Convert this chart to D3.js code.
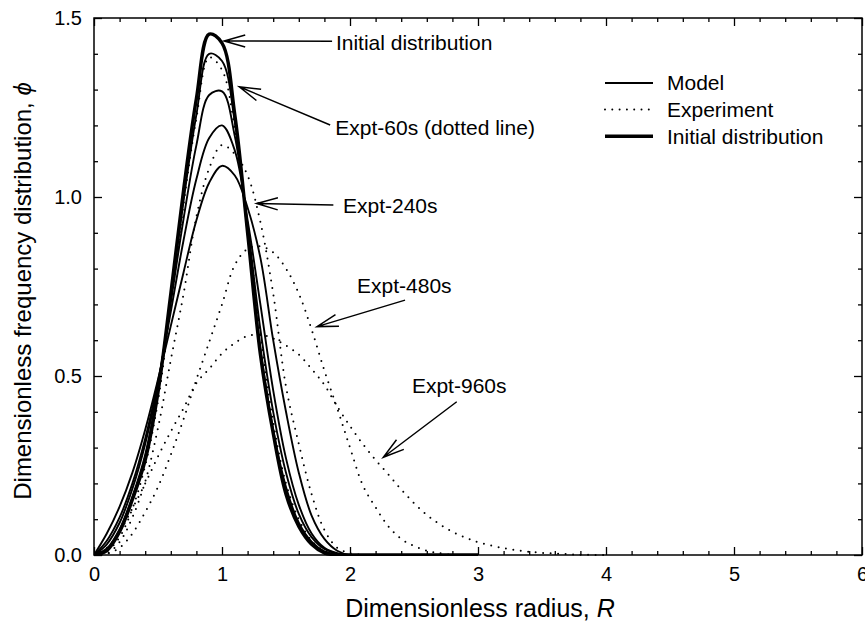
<!DOCTYPE html>
<html>
<head>
<meta charset="utf-8">
<script src="https://cdn.jsdelivr.net/npm/d3@7"></script>
<style>
  body { margin: 0; background: #fff; }
  svg { display: block; }
  text { font-family: "Liberation Sans", Arial, sans-serif; fill: #000; }
</style>
</head>
<body>
<div id="chart"></div>
<script>
const width = 865,
  height = 635,
  margin = { top: 18, right: 3, bottom: 80, left: 94 };

const innerW = width - margin.left - margin.right,
  innerH = height - margin.top - margin.bottom;

// ---- data ----
const xTicks = [0, 1, 2, 3, 4, 5, 6];
const yTicks = [0, 0.5, 1.0, 1.5];

// model curves share one radius grid
const rModel = [0, 0.1, 0.2, 0.3, 0.4, 0.5, 0.6, 0.7, 0.8, 0.9, 1.0, 1.1, 1.2, 1.3, 1.4, 1.5, 1.6, 1.7, 1.8, 1.9, 2.0, 2.5, 3.0];
const initialPhi = [0, 0.012, 0.065, 0.155, 0.265, 0.455, 0.73, 1.02, 1.275, 1.455, 1.43, 1.23, 0.90, 0.56, 0.34, 0.17, 0.08, 0.03, 0.006, 0, 0, 0, 0];
const model60 = [0, 0.018, 0.072, 0.163, 0.28, 0.465, 0.72, 0.99, 1.23, 1.40, 1.38, 1.21, 0.90, 0.58, 0.35, 0.19, 0.09, 0.037, 0.01, 0.002, 0, 0, 0];
const model240 = [0, 0.03, 0.09, 0.185, 0.31, 0.475, 0.705, 0.94, 1.145, 1.285, 1.295, 1.17, 0.92, 0.63, 0.40, 0.23, 0.115, 0.05, 0.017, 0.004, 0, 0, 0];
const model480 = [0, 0.04, 0.105, 0.20, 0.325, 0.485, 0.68, 0.88, 1.05, 1.165, 1.20, 1.13, 0.935, 0.70, 0.46, 0.27, 0.14, 0.06, 0.02, 0.005, 0, 0, 0];
const model960 = [0, 0.06, 0.135, 0.23, 0.35, 0.49, 0.64, 0.79, 0.935, 1.04, 1.087, 1.06, 0.97, 0.83, 0.60, 0.40, 0.23, 0.11, 0.045, 0.012, 0, 0, 0];

// experiment curves (dotted), each uses the start of this grid
const rExpt = [0, 0.1, 0.2, 0.3, 0.4, 0.5, 0.6, 0.7, 0.8, 0.9, 1.0, 1.1, 1.2, 1.3, 1.4, 1.5, 1.6, 1.7, 1.8, 1.9, 2.0,
  2.1, 2.2, 2.3, 2.4, 2.5, 2.6, 2.7, 2.8, 2.9, 3.0, 3.2, 3.4, 3.6, 3.8, 4.0];
const expt60 = [0, 0.01, 0.05, 0.13, 0.25, 0.43, 0.70, 0.98, 1.22, 1.39, 1.355, 1.19, 0.92, 0.62, 0.37, 0.20, 0.10, 0.04, 0.012, 0.002, 0];
const expt240 = [0, 0.004, 0.036, 0.105, 0.205, 0.355, 0.545, 0.73, 0.945, 1.08, 1.145, 1.12, 1.06, 0.93, 0.73, 0.47, 0.31, 0.17, 0.07, 0.02, 0.005, 0];
const expt480 = [0, 0.003, 0.02, 0.06, 0.12, 0.19, 0.28, 0.38, 0.49, 0.595, 0.70, 0.81, 0.855, 0.862, 0.845, 0.80, 0.73, 0.63, 0.515, 0.41, 0.30,
  0.195, 0.133, 0.08, 0.045, 0.025, 0.012, 0.005, 0];
const expt960 = [0, 0.02, 0.065, 0.13, 0.20, 0.275, 0.345, 0.41, 0.48, 0.52, 0.563, 0.592, 0.612, 0.615, 0.605, 0.585, 0.56, 0.52, 0.475, 0.415, 0.36,
  0.31, 0.265, 0.225, 0.183, 0.145, 0.112, 0.086, 0.065, 0.049, 0.036, 0.019, 0.009, 0.004, 0.001, 0];

const legendLabels = ["Model", "Experiment", "Initial distribution"];

// callouts: text anchor, arrow start and arrow tip, in data units (R, phi)
const callouts = [
  { label: "Initial distribution", text: [1.89, 1.41], from: [1.86, 1.435], to: [1.016, 1.436] },
  { label: "Expt-60s (dotted line)", text: [1.885, 1.173], from: [1.845, 1.201], to: [1.135, 1.308] },
  { label: "Expt-240s", text: [1.945, 0.955], from: [1.87, 0.978], to: [1.271, 0.982] },
  { label: "Expt-480s", text: [2.055, 0.732], from: [2.43, 0.712], to: [1.742, 0.638] },
  { label: "Expt-960s", text: [2.484, 0.452], from: [2.834, 0.428], to: [2.26, 0.273] }
];

// ---- chart ----
const svg = d3.select("#chart")
  .append("svg")
  .attr("width", width)
  .attr("height", height);

const g = svg.append("g")
  .attr("transform", `translate(${margin.left},${margin.top})`);

const x = d3.scaleLinear().domain([0, 6]).range([0, innerW]);
const y = d3.scaleLinear().domain([0, 1.5]).range([innerH, 0]);

svg.append("defs").append("clipPath").attr("id", "plot")
  .append("rect")
  .attr("x", 0).attr("y", -10)
  .attr("width", innerW).attr("height", innerH + 11);

const xMinor = d3.range(0, 6.001, 0.2).filter(v => Math.abs(v - Math.round(v)) > 1e-6);
const yMinor = d3.range(0, 1.501, 0.1).filter(v => Math.abs(v * 2 - Math.round(v * 2)) > 1e-6);

function styleAxis(sel) {
  sel.select(".domain").remove();
  sel.selectAll(".tick line").attr("stroke", "#000").attr("stroke-width", 1.3);
  sel.selectAll(".tick text")
    .attr("font-size", 20)
    .attr("font-family", '"Liberation Sans", Arial, sans-serif')
    .attr("fill", "#000");
}

// bottom
g.append("g").attr("transform", `translate(0,${innerH})`)
  .call(d3.axisBottom(x).tickValues(xTicks).tickSize(-8).tickPadding(12).tickFormat(d3.format("d")))
  .call(styleAxis);
g.append("g").attr("transform", `translate(0,${innerH})`)
  .call(d3.axisBottom(x).tickValues(xMinor).tickSize(-4).tickFormat(""))
  .call(styleAxis);
// top
g.append("g")
  .call(d3.axisTop(x).tickValues(xTicks).tickSize(-8).tickFormat(""))
  .call(styleAxis);
g.append("g")
  .call(d3.axisTop(x).tickValues(xMinor).tickSize(-4).tickFormat(""))
  .call(styleAxis);
// left
g.append("g")
  .call(d3.axisLeft(y).tickValues(yTicks).tickSize(-8).tickPadding(12).tickFormat(d3.format(".1f")))
  .call(styleAxis);
g.append("g")
  .call(d3.axisLeft(y).tickValues(yMinor).tickSize(-4).tickFormat(""))
  .call(styleAxis);
// right
g.append("g").attr("transform", `translate(${innerW},0)`)
  .call(d3.axisRight(y).tickValues(yTicks).tickSize(-8).tickFormat(""))
  .call(styleAxis);
g.append("g").attr("transform", `translate(${innerW},0)`)
  .call(d3.axisRight(y).tickValues(yMinor).tickSize(-4).tickFormat(""))
  .call(styleAxis);

// curves
const line = d3.line()
  .x(d => x(d[0]))
  .y(d => y(d[1]))
  .curve(d3.curveCatmullRom.alpha(0.5));

const pairs = (rs, vs) => vs.map((v, i) => [rs[i], v]);

const curves = g.append("g").attr("clip-path", "url(#plot)");

[model60, model240, model480, model960].forEach(vals => {
  curves.append("path")
    .datum(pairs(rModel, vals))
    .attr("d", line)
    .attr("fill", "none")
    .attr("stroke", "#000")
    .attr("stroke-width", 1.9);
});

[expt60, expt240, expt480, expt960].forEach(vals => {
  curves.append("path")
    .datum(pairs(rExpt, vals))
    .attr("d", line)
    .attr("fill", "none")
    .attr("stroke", "#000")
    .attr("stroke-width", 2)
    .attr("stroke-linecap", "round")
    .attr("stroke-dasharray", "0 7.5");
});

curves.append("path")
  .datum(pairs(rModel, initialPhi))
  .attr("d", line)
  .attr("fill", "none")
  .attr("stroke", "#000")
  .attr("stroke-width", 3.4);

// frame
g.append("rect")
  .attr("width", innerW)
  .attr("height", innerH)
  .attr("fill", "none")
  .attr("stroke", "#000")
  .attr("stroke-width", 1.5);

// callouts with open arrowheads
const head = 22, spread = 16 * Math.PI / 180;
callouts.forEach(c => {
  const x1 = x(c.from[0]), y1 = y(c.from[1]);
  const x2 = x(c.to[0]), y2 = y(c.to[1]);
  const a = Math.atan2(y1 - y2, x1 - x2);
  const path = d3.path();
  path.moveTo(x1, y1);
  path.lineTo(x2, y2);
  path.moveTo(x2 + head * Math.cos(a - spread), y2 + head * Math.sin(a - spread));
  path.lineTo(x2, y2);
  path.lineTo(x2 + head * Math.cos(a + spread), y2 + head * Math.sin(a + spread));
  g.append("path")
    .attr("d", path.toString())
    .attr("fill", "none")
    .attr("stroke", "#000")
    .attr("stroke-width", 1.5);
  g.append("text")
    .attr("x", x(c.text[0]))
    .attr("y", y(c.text[1]))
    .attr("font-size", 21)
    .text(c.label);
});

// legend
const legend = svg.append("g").attr("transform", "translate(605,83)");
legendLabels.forEach((label, i) => {
  const row = legend.append("g").attr("transform", `translate(0,${i * 26.6})`);
  const ln = row.append("line")
    .attr("x1", 0).attr("x2", 48)
    .attr("stroke", "#000");
  if (i === 0) ln.attr("stroke-width", 1.9);
  if (i === 1) ln.attr("stroke-width", 2).attr("stroke-linecap", "round").attr("stroke-dasharray", "0 7.3");
  if (i === 2) ln.attr("stroke-width", 3.4);
  row.append("text")
    .attr("x", 62)
    .attr("dy", "0.35em")
    .attr("font-size", 21)
    .text(label);
});

// axis titles
const xTitle = svg.append("text")
  .attr("x", 480)
  .attr("y", 617)
  .attr("text-anchor", "middle")
  .attr("font-size", 25);
xTitle.append("tspan").text("Dimensionless radius, ");
xTitle.append("tspan").attr("font-style", "italic").text("R");

const yTitle = svg.append("text")
  .attr("transform", "translate(31,291) rotate(-90)")
  .attr("text-anchor", "middle")
  .attr("font-size", 24);
yTitle.append("tspan").text("Dimensionless frequency distribution, ");
yTitle.append("tspan").attr("font-style", "italic").text("\u03D5");
</script>
</body>
</html>
